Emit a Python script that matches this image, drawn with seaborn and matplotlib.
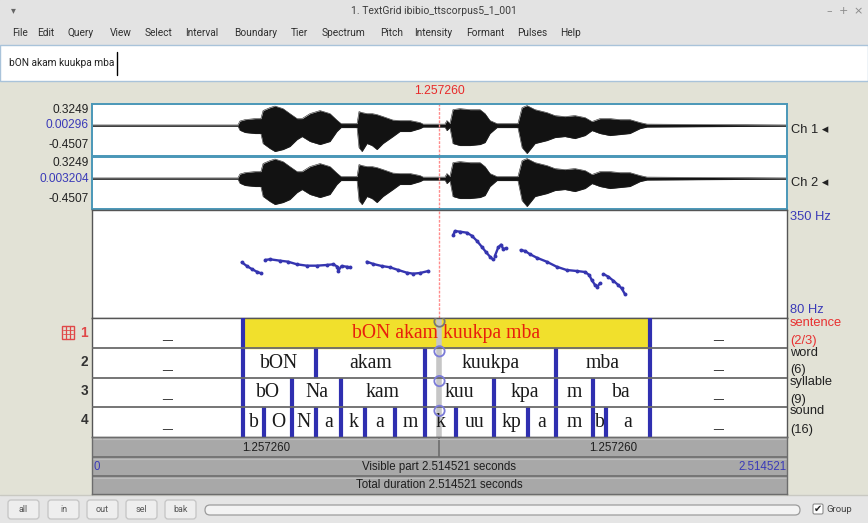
import matplotlib
matplotlib.use("Agg")
import matplotlib.pyplot as plt
from matplotlib.patches import Rectangle, FancyBboxPatch
import pandas as pd
import seaborn as sns

sns.set_theme(style="white")
plt.rcParams["font.family"] = ["Liberation Sans", "DejaVu Sans"]

# ---------------------------------------------------------------- data
DURATION = 2.514521
CURSOR = 1.257260
half_durations = [1.257260, 1.257260]

ch1_range = (-0.4507, 0.3249)
ch1_zero = 0.00296
ch2_range = (-0.4507, 0.3249)
ch2_zero = 0.003204
pitch_range = (80, 350)

# amplitude envelope of the recording (seconds, upper, lower)
env_time = [0.000, 0.528, 0.535, 0.554, 0.590, 0.611, 0.619, 0.644, 0.662, 0.691,
            0.716, 0.742, 0.760, 0.789, 0.825, 0.861, 0.886, 0.901, 0.959, 0.966,
            0.977, 0.995, 1.013, 1.031, 1.053, 1.089, 1.114, 1.151, 1.187, 1.198,
            1.277, 1.284, 1.295, 1.306, 1.331, 1.368, 1.404, 1.422, 1.440, 1.465,
            1.541, 1.556, 1.574, 1.603, 1.646, 1.675, 1.711, 1.747, 1.784, 1.809,
            1.838, 1.874, 1.910, 1.946, 1.983, 2.008, 2.515]
env_upper = [0.009, 0.009, 0.067, 0.089, 0.104, 0.104, 0.224, 0.268, 0.291, 0.253,
             0.179, 0.104, 0.104, 0.179, 0.224, 0.179, 0.082, 0.030, 0.030, 0.209,
             0.194, 0.179, 0.179, 0.164, 0.134, 0.082, 0.075, 0.075, 0.045, 0.022,
             0.022, 0.075, 0.030, 0.238, 0.253, 0.238, 0.238, 0.179, 0.075, 0.030,
             0.030, 0.268, 0.298, 0.238, 0.194, 0.149, 0.134, 0.149, 0.119, 0.060,
             0.104, 0.104, 0.089, 0.089, 0.045, 0.022, 0.009]
env_lower = [-0.009, -0.009, -0.070, -0.104, -0.119, -0.119, -0.268, -0.343, -0.387, -0.358,
             -0.313, -0.209, -0.164, -0.238, -0.283, -0.238, -0.089, -0.030, -0.030, -0.328,
             -0.387, -0.268, -0.298, -0.358, -0.268, -0.164, -0.089, -0.089, -0.045, -0.022,
             -0.022, -0.075, -0.030, -0.268, -0.298, -0.298, -0.283, -0.253, -0.119, -0.030,
             -0.030, -0.328, -0.417, -0.268, -0.224, -0.179, -0.164, -0.194, -0.149, -0.075,
             -0.119, -0.149, -0.134, -0.119, -0.045, -0.022, -0.009]

# pitch contour, voiced stretches (seconds, Hz)
pitch_a_t = [0.542, 0.560, 0.578, 0.596, 0.611]
pitch_a_hz = [219.3, 210.0, 202.5, 195.8, 191.8]
pitch_b_t = [0.626, 0.644, 0.680, 0.709, 0.741, 0.777, 0.813, 0.849, 0.873, 0.888,
             0.891, 0.903, 0.921, 0.933]
pitch_b_hz = [225.0, 226.8, 223.3, 220.8, 214.3, 210.8, 210.8, 212.5, 214.3, 208.3,
              198.3, 210.0, 208.3, 206.8]
pitch_c_t = [0.994, 1.018, 1.048, 1.078, 1.108, 1.139, 1.162, 1.187, 1.217]
pitch_c_hz = [220.8, 215.0, 210.0, 206.8, 200.0, 193.3, 190.8, 192.5, 197.5]
pitch_d_t = [1.307, 1.313, 1.331, 1.356, 1.374, 1.392, 1.410, 1.426, 1.440, 1.450]
pitch_d_hz = [287.5, 297.5, 295.8, 293.3, 285.8, 273.3, 258.3, 244.3, 233.3, 226.8]
pitch_e_t = [1.458, 1.470, 1.480, 1.488, 1.498]
pitch_e_hz = [235.8, 256.8, 263.3, 252.5, 254.3]
pitch_f_t = [1.551, 1.567, 1.585, 1.609, 1.645, 1.681, 1.717, 1.754, 1.784, 1.799,
             1.808, 1.820, 1.828, 1.838]
pitch_f_hz = [250.0, 247.5, 239.3, 230.8, 220.8, 208.3, 200.0, 197.5, 195.0, 187.5,
              175.0, 162.5, 158.3, 166.8]
pitch_g_t = [1.850, 1.868, 1.886, 1.904, 1.916, 1.928]
pitch_g_hz = [190.0, 183.3, 173.3, 162.5, 154.3, 140.0]

# TextGrid tiers
tier_names = ["sentence", "word", "syllable", "sound"]
sentence_bounds = [0.0, 0.546, 2.019, DURATION]
sentence_labels = ["_", "bON akam kuukpa mba", "_"]
word_bounds = [0.0, 0.546, 0.809, 1.205, 1.679, 2.019, DURATION]
word_labels = ["_", "bON", "akam", "kuukpa", "mba", "_"]
syllable_bounds = [0.0, 0.546, 0.724, 0.901, 1.205, 1.455, 1.679, 1.813, 2.019, DURATION]
syllable_labels = ["_", "bO", "Na", "kam", "kuu", "kpa", "m", "ba", "_"]
sound_bounds = [0.0, 0.546, 0.622, 0.724, 0.809, 0.901, 0.988, 1.096, 1.205, 1.317,
                1.455, 1.577, 1.679, 1.813, 1.860, 2.019, DURATION]
sound_labels = ["_", "b", "O", "N", "a", "k", "a", "m", "k", "uu", "kp", "a", "m", "b", "a", "_"]
selected_interval = 1  # in the sentence tier

menu_items = ["File", "Edit", "Query", "View", "Select", "Interval", "Boundary", "Tier",
              "Spectrum", "Pitch", "Intensity", "Formant", "Pulses", "Help"]
button_labels = ["all", "in", "out", "sel", "bak"]

# ---------------------------------------------------------------- layout
W, H = 868, 523
X0, X1 = 92, 787
BG = "#e2e2d6"
BLUE_TXT = "#3a3ab8"
BOUND_BLUE = "#2f2fb0"
TEAL = "#4a97b8"
SERIF = ["Liberation Serif", "DejaVu Serif"]
UI = ["Roboto", "DejaVu Sans"]

fig = plt.figure(figsize=(W / 100, H / 100), dpi=100)
fig.patch.set_facecolor(BG)

bg = fig.add_axes([0, 0, 1, 1])
bg.set_xlim(0, W)
bg.set_ylim(H, 0)
bg.axis("off")


def px_axes(x0, y0, x1, y1):
    return fig.add_axes([x0 / W, 1 - y1 / H, (x1 - x0) / W, (y1 - y0) / H])


def rect(x0, y0, x1, y1, **kw):
    bg.add_patch(Rectangle((x0, y0), x1 - x0, y1 - y0, **kw))


def bare(ax, color, lw=1.0):
    ax.set_xticks([])
    ax.set_yticks([])
    ax.set_xlabel("")
    ax.set_ylabel("")
    for s in ax.spines.values():
        s.set_visible(True)
        s.set_color(color)
        s.set_linewidth(lw)


# window chrome
rect(0, 0, W, 45, color="#e3e3e3")
rect(0, 45, W, 81, facecolor="white", edgecolor="#a9c3da", lw=1)
rect(0, 495, W, H, color="#e5e5e5")
bg.plot([0, W], [495, 495], color="#c9c9c2", lw=1)

bg.text(13, 10, "▾", ha="center", va="center", fontsize=7, color="#666666",
        family=["DejaVu Sans"])
bg.text(434, 11, "1. TextGrid ibibio_ttscorpus5_1_001", ha="center", va="center",
        fontsize=7.5, color="#3c3c3c", family=UI)
for xx, sym in zip([829, 843, 858], ["–", "+", "×"]):
    bg.text(xx, 11, sym, ha="center", va="center", fontsize=8, color="#8a8a8a",
            family=["DejaVu Sans"])

menu_x = [12, 37, 68, 110, 145, 185, 234, 291, 322, 380, 414, 466, 517, 560]
for xx, item in zip(menu_x, menu_items):
    bg.text(xx, 33, item, ha="left", va="center", fontsize=7.3, color="#303030", family=UI)

bg.text(9, 63, sentence_labels[1], ha="left", va="center", fontsize=7.3,
        color="#222222", family=UI)
bg.plot([117, 117], [52, 75], color="black", lw=1)

# ---------------------------------------------------------------- waveforms
env = pd.DataFrame({"time": env_time, "upper": env_upper, "lower": env_lower})
wave_axes = []
for (ya, yb), zero, rng in [((104, 156), ch1_zero, ch1_range),
                            ((157, 209), ch2_zero, ch2_range)]:
    ax = px_axes(X0, ya, X1, yb)
    ax.set_facecolor("white")
    ax.fill_between(env["time"], env["lower"] + zero, env["upper"] + zero,
                    color="#121212", lw=0)
    sns.lineplot(x=env["time"], y=env["upper"] + zero, ax=ax, color="#222222", lw=0.4)
    sns.lineplot(x=env["time"], y=env["lower"] + zero, ax=ax, color="#222222", lw=0.4)
    ax.axvline(CURSOR, color="#ff8c8c", lw=1, ls=(0, (2, 1)))
    ax.set_xlim(0, DURATION)
    ax.set_ylim(*rng)
    bare(ax, TEAL, 1.4)
    wave_axes.append(ax)

wave_axes[0].annotate(f"{CURSOR:.6f}", xy=(CURSOR, 1), xycoords=("data", "axes fraction"),
                      xytext=(0, 9), textcoords="offset points", ha="center", va="center",
                      fontsize=8.8, color="#e82a2a")

for y, txt, col in [(110, "0.3249", "#222222"), (125, "0.00296", BLUE_TXT),
                    (145, "-0.4507", "#222222"), (163, "0.3249", "#222222"),
                    (179, "0.003204", BLUE_TXT), (199, "-0.4507", "#222222")]:
    bg.text(89, y, txt, ha="right", va="center", fontsize=8.6, color=col)
bg.text(791, 130, "Ch 1 ◂", ha="left", va="center", fontsize=9.3, color="#222222")
bg.text(791, 183, "Ch 2 ◂", ha="left", va="center", fontsize=9.3, color="#222222")

# ---------------------------------------------------------------- pitch
axp = px_axes(X0, 210, X1, 318)
axp.set_facecolor("white")
for t, hz in [(pitch_a_t, pitch_a_hz), (pitch_b_t, pitch_b_hz), (pitch_c_t, pitch_c_hz),
              (pitch_d_t, pitch_d_hz), (pitch_e_t, pitch_e_hz), (pitch_f_t, pitch_f_hz),
              (pitch_g_t, pitch_g_hz)]:
    sns.lineplot(x=t, y=hz, ax=axp, color="#3535b0", lw=1.7, marker="o",
                 markersize=2.8, markeredgewidth=0, sort=False)
axp.axvline(CURSOR, color="#ff8c8c", lw=1, ls=(0, (2, 1)))
axp.set_xlim(0, DURATION)
axp.set_ylim(*pitch_range)
bare(axp, "#555555", 1.0)
bg.text(790, 217, f"{pitch_range[1]} Hz", ha="left", va="center", fontsize=9.3, color=BLUE_TXT)
bg.text(790, 310, f"{pitch_range[0]} Hz", ha="left", va="center", fontsize=9.3, color=BLUE_TXT)

# ---------------------------------------------------------------- tiers
axt = px_axes(X0, 318, X1, 437)
axt.set_facecolor("white")
axt.set_xlim(0, DURATION)
axt.set_ylim(4, 0)
tiers = [(sentence_bounds, sentence_labels), (word_bounds, word_labels),
         (syllable_bounds, syllable_labels), (sound_bounds, sound_labels)]

sb = sentence_bounds
axt.add_patch(Rectangle((sb[selected_interval], 0),
                        sb[selected_interval + 1] - sb[selected_interval], 1,
                        color="#f1e02c", zorder=1))
axt.vlines(CURSOR, 0, 4, color="#c6c6c6", lw=4, zorder=2)

for row, (bounds, labels) in enumerate(tiers):
    for i, (left, right, lab) in enumerate(zip(bounds[:-1], bounds[1:], labels)):
        is_sel = row == 0 and i == selected_interval
        axt.text((left + right) / 2, row + 0.52, lab, ha="center", va="center",
                 fontsize=14.2, family=SERIF, color="#e8200c" if is_sel else "#1a1a1a",
                 zorder=3)
    axt.vlines(bounds[1:-1], row, row + 1, color=BOUND_BLUE, lw=3, zorder=4)
    if row:
        axt.axhline(row, color="#6a6a6a", lw=1.3, zorder=5)
axt.scatter([CURSOR] * 4, [r + 0.12 for r in range(4)], s=55, facecolors="none",
            edgecolors=["#777777", "#7b7bd8", "#7b7bd8", "#7b7bd8"], lw=1.3, zorder=6)
bare(axt, "#555555", 1.0)

# tier numbers and names
rect(62, 326, 74, 339, facecolor="none", edgecolor="#e04848", lw=1)
bg.plot([66, 66], [326, 339], color="#e04848", lw=0.9)
bg.plot([70, 70], [326, 339], color="#e04848", lw=0.9)
for yy in [330, 334]:
    bg.plot([63, 73], [yy, yy], color="#e04848", lw=0.6)
for i, y in enumerate([333, 362, 391, 420]):
    bg.text(88, y, str(i + 1), ha="right", va="center", fontsize=9.8,
            color="#e04848" if i == 0 else "#333333", fontweight="bold")

side = [(323, "sentence", "#e83030"), (341, f"(2/{len(sentence_labels)})", "#e83030"),
        (353, "word", "#222222"), (370, f"({len(word_labels)})", "#222222"),
        (382, "syllable", "#222222"), (400, f"({len(syllable_labels)})", "#222222"),
        (411, "sound", "#222222"), (430, f"({len(sound_labels)})", "#222222")]
for y, txt, col in side:
    bg.text(790, y, txt, ha="left", va="center", fontsize=9.3, color=col)

# ---------------------------------------------------------------- time bars
axb = px_axes(X0, 437, X1, 494)
axb.set_xlim(0, DURATION)
axb.set_ylim(494, 437)
axb.set_facecolor("#a8a8a8")
for yy in [457, 476]:
    axb.axhline(yy, color="#6c6c6c", lw=1.2)
axb.vlines(CURSOR, 437, 457, color="#6c6c6c", lw=1.2)
for yy in [438.5, 458.5, 477.5]:
    axb.axhline(yy, color="#bcbcbc", lw=0.8)
axb.text(CURSOR / 2, 447.5, f"{half_durations[0]:.6f}", ha="center", va="center",
         fontsize=8.3, color="#1e1e1e")
axb.text((CURSOR + DURATION) / 2, 447.5, f"{half_durations[1]:.6f}", ha="center",
         va="center", fontsize=8.3, color="#1e1e1e")
axb.text(DURATION / 2, 466.5, f"Visible part {DURATION:.6f} seconds", ha="center",
         va="center", fontsize=8.3, color="#1e1e1e")
axb.text(DURATION * 0.002, 466.5, "0", ha="left", va="center", fontsize=8.3, color=BLUE_TXT)
axb.text(DURATION * 0.999, 466.5, f"{DURATION:.6f}", ha="right", va="center",
         fontsize=8.3, color=BLUE_TXT)
axb.text(DURATION / 2, 485, f"Total duration {DURATION:.6f} seconds", ha="center",
         va="center", fontsize=8.3, color="#1e1e1e")
bare(axb, "#6c6c6c", 1.0)

# ---------------------------------------------------------------- bottom toolbar
for x0, lab in zip([8, 48, 87, 126, 165], button_labels):
    bg.add_patch(FancyBboxPatch((x0, 500), 31, 19, boxstyle="round,pad=0,rounding_size=3",
                                facecolor="#eeeeee", edgecolor="#c4c4c4", lw=0.9))
    bg.text(x0 + 15.5, 509.5, lab, ha="center", va="center", fontsize=6.5,
            color="#555555", family=UI)
bg.add_patch(FancyBboxPatch((205, 505), 595, 10, boxstyle="round,pad=0,rounding_size=5",
                            facecolor="#f3f3f3", edgecolor="#9c9c9c", lw=0.9))
bg.add_patch(FancyBboxPatch((813, 504), 10, 10, boxstyle="round,pad=0,rounding_size=1.5",
                            facecolor="white", edgecolor="#8c8c8c", lw=0.8))
bg.text(818, 509, "✔", ha="center", va="center", fontsize=7, color="#222222",
        family=["DejaVu Sans"])
bg.text(826, 509.5, "Group", ha="left", va="center", fontsize=6.8, color="#444444", family=UI)

fig.savefig("out.png", dpi=100, facecolor=fig.get_facecolor())
